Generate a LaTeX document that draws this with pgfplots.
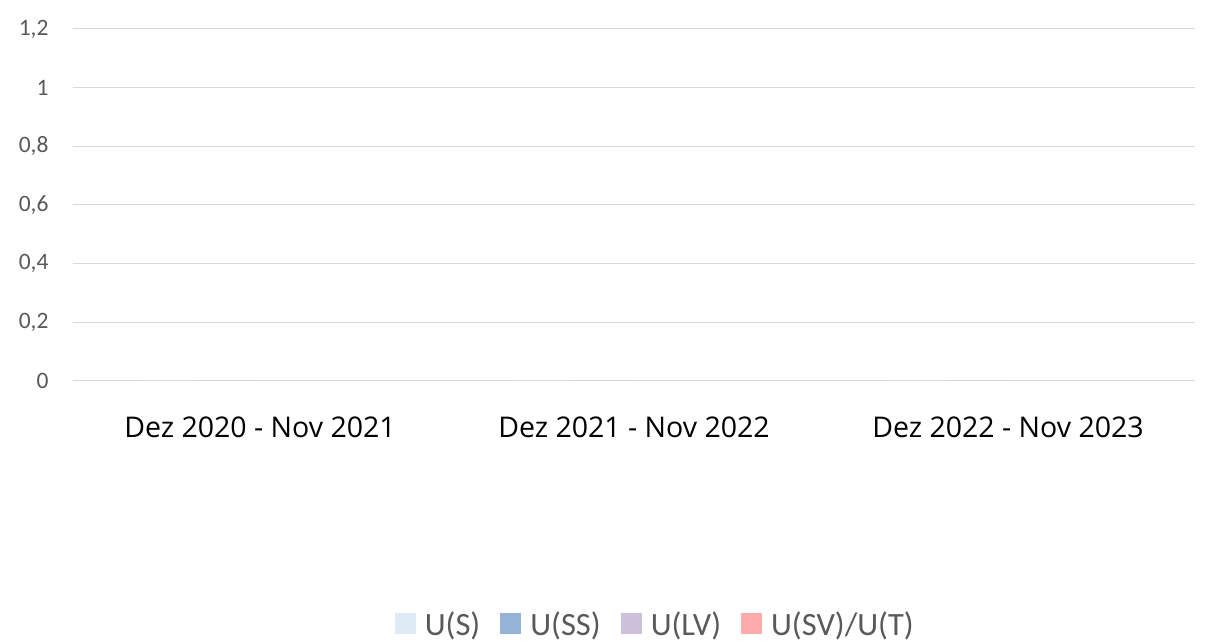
\documentclass[border=0pt]{standalone}
\usepackage{pgfplots}
\pgfplotsset{compat=1.18}
\usepackage{fontspec}
\setmainfont{Carlito}
\newfontfamily\xlabfont{Open Sans}
\definecolor{cS}{HTML}{DEEBF7}
\definecolor{cSS}{HTML}{95B3D7}
\definecolor{cLV}{HTML}{CCC0DA}
\definecolor{cSV}{HTML}{FFABAB}
\definecolor{gridc}{HTML}{D9D9D9}
\definecolor{txt}{HTML}{595959}
\begin{document}
\begin{tikzpicture}
\begin{axis}[
  scale only axis, width=1122pt, height=352pt,
  ybar, bar width=60pt,
  xmin=-0.5, xmax=2.5, ymin=0, ymax=1.2,
  xtick={0,1,2},
  xticklabels={Dez 2020 - Nov 2021, Dez 2021 - Nov 2022, Dez 2022 - Nov 2023},
  ytick={0,0.2,0.4,0.6,0.8,1,1.2},
  yticklabels={0,{0,2},{0,4},{0,6},{0,8},1,{1,2}},
  ymajorgrids, grid style={gridc, line width=1pt},
  axis line style={draw=none},
  major tick length=0pt,
  yticklabel style={font=\fontsize{23.5}{26}\selectfont, text=txt, xshift=-21pt},
  xticklabel style={font=\xlabfont\fontsize{28.5}{32}\selectfont, text=black, yshift=-32pt},
  legend style={draw=none, at={(0.519,-0.69)}, anchor=center,
    font=\fontsize{32.5}{35}\selectfont, text=txt,
    /tikz/every odd column/.append style={column sep=7pt},
    /tikz/every even column/.append style={column sep=18pt}},
  legend columns=4,
  legend image code/.code={\fill[#1, draw=none] (0pt,-10.5pt) rectangle (21pt,10.5pt);},
]
\addplot[fill=cS, draw=none] coordinates {(0,0) (1,0) (2,0)};
\addplot[fill=cSS, draw=none] coordinates {(0,0) (1,0) (2,0)};
\addplot[fill=cLV, draw=none] coordinates {(0,0) (1,0) (2,0)};
\addplot[fill=cSV, draw=none] coordinates {(0,0) (1,0) (2,0)};
\legend{U(S), U(SS), U(LV), U(SV)/U(T)}
\end{axis}
\useasboundingbox (-73pt,-263pt) rectangle (1138pt,381pt);
\end{tikzpicture}
\end{document}
